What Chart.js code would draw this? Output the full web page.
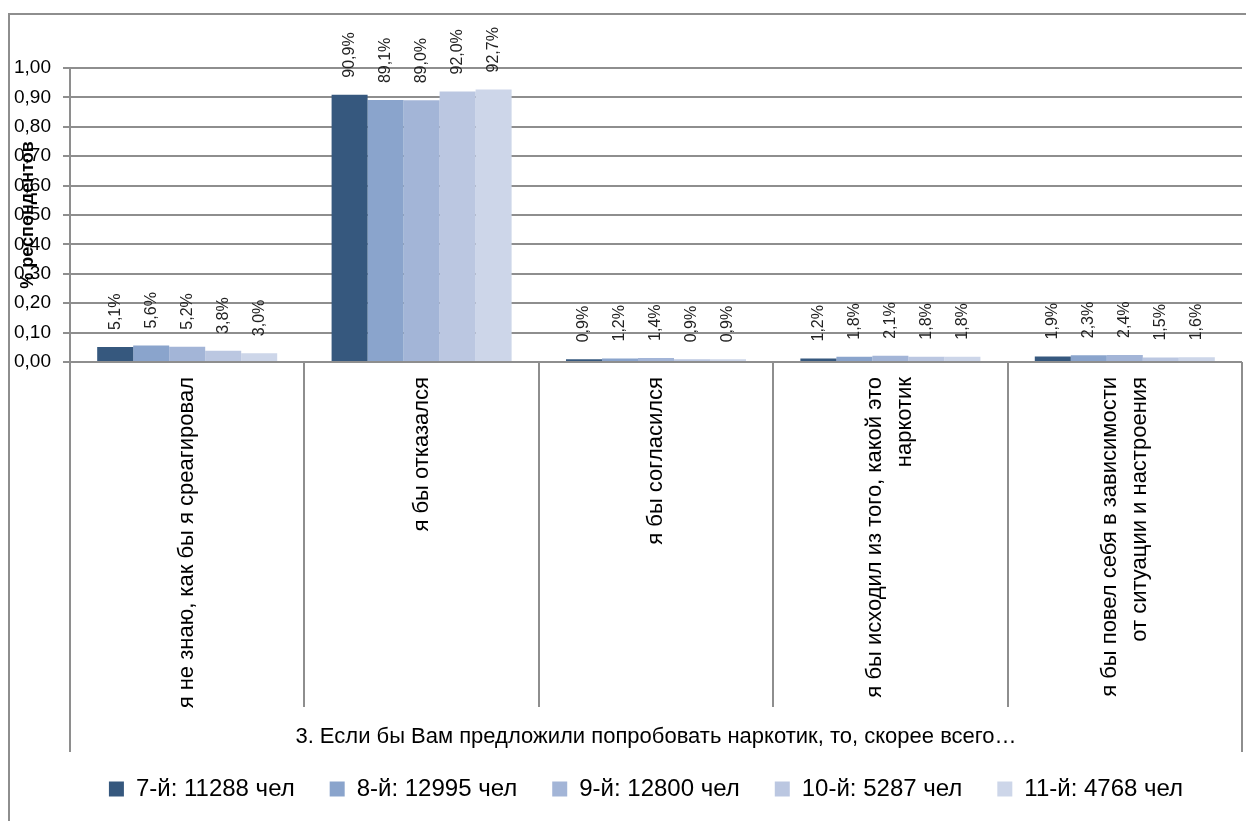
<!DOCTYPE html>
<html>
<head>
<meta charset="utf-8">
<script src="https://cdn.jsdelivr.net/npm/chart.js@4.4.1/dist/chart.umd.min.js"></script>
<style>
  html, body { margin: 0; padding: 0; background: #fff; }
  canvas { display: block; }
</style>
</head>
<body>
<canvas id="chart" width="1246" height="821"></canvas>
<script>
const categories = [
  ["я не знаю, как бы я среагировал"],
  ["я бы отказался"],
  ["я бы согласился"],
  ["я бы исходил из того, какой это", "наркотик"],
  ["я бы повел себя в зависимости", "от ситуации и настроения"]
];
const seriesNames = ["7-й: 11288 чел", "8-й: 12995 чел", "9-й: 12800 чел", "10-й: 5287 чел", "11-й: 4768 чел"];
const grade7 = [0.051, 0.909, 0.009, 0.012, 0.019];
const grade8 = [0.056, 0.891, 0.012, 0.018, 0.023];
const grade9 = [0.052, 0.890, 0.014, 0.021, 0.024];
const grade10 = [0.038, 0.920, 0.009, 0.018, 0.015];
const grade11 = [0.030, 0.927, 0.009, 0.018, 0.016];
const colors = ["#36587e", "#8aa4cc", "#a3b5d7", "#bbc7e1", "#cdd6e9"];
const axisTitle = "3. Если бы Вам предложили попробовать наркотик, то, скорее всего…";
const yTitle = "% респондентов";

const FONT = "'Liberation Sans', Arial, sans-serif";
const GRID = "#8e8e8e";
Chart.defaults.font.family = FONT;
Chart.defaults.color = "#000";

const pct = v => (v * 100).toFixed(1).replace(".", ",") + "%";

// frame, data labels, category boxes and labels
const decorations = {
  id: "decorations",
  beforeDraw(chart) {
    const ctx = chart.ctx;
    ctx.save();
    ctx.fillStyle = "#fff";
    ctx.fillRect(0, 0, chart.width, chart.height);
    ctx.strokeStyle = GRID;
    ctx.lineWidth = 2;
    ctx.beginPath();
    ctx.moveTo(9, chart.height);
    ctx.lineTo(9, 14);
    ctx.lineTo(chart.width, 14);
    ctx.stroke();
    ctx.restore();
  },
  afterDraw(chart) {
    const ctx = chart.ctx;
    const area = chart.chartArea;
    const x = chart.scales.x;

    ctx.save();
    // data labels
    ctx.font = "16px " + FONT;
    ctx.fillStyle = "#222";
    ctx.textAlign = "left";
    ctx.textBaseline = "middle";
    chart.data.datasets.forEach((ds, i) => {
      chart.getDatasetMeta(i).data.forEach((bar, j) => {
        ctx.save();
        ctx.translate(bar.x, bar.y - 17);
        ctx.rotate(-Math.PI / 2);
        ctx.fillText(pct(ds.data[j]), 0, 0);
        ctx.restore();
      });
    });

    // category dividers
    const half = (x.getPixelForValue(1) - x.getPixelForValue(0)) / 2;
    ctx.strokeStyle = GRID;
    ctx.lineWidth = 2;
    ctx.beginPath();
    for (let j = 1; j < categories.length; j++) {
      const px = Math.round(x.getPixelForValue(j) - half);
      ctx.moveTo(px, area.bottom);
      ctx.lineTo(px, area.bottom + 345);
    }
    ctx.moveTo(area.left, area.bottom);
    ctx.lineTo(area.left, area.bottom + 390);
    ctx.moveTo(area.right, area.bottom);
    ctx.lineTo(area.right, area.bottom + 390);
    ctx.stroke();

    // category labels
    ctx.font = "22px " + FONT;
    ctx.fillStyle = "#000";
    ctx.textAlign = "right";
    categories.forEach((lines, j) => {
      const cx = x.getPixelForValue(j);
      lines.forEach((t, k) => {
        ctx.save();
        ctx.translate(cx + (k - (lines.length - 1) / 2) * 30, area.bottom + 15);
        ctx.rotate(-Math.PI / 2);
        ctx.fillText(t, 0, 0);
        ctx.restore();
      });
    });
    ctx.restore();
  }
};

new Chart(document.getElementById("chart"), {
  type: "bar",
  data: {
    labels: categories,
    datasets: [grade7, grade8, grade9, grade10, grade11].map((d, i) => ({
      label: seriesNames[i],
      data: d,
      backgroundColor: colors[i],
      borderWidth: 0,
      categoryPercentage: 0.768,
      barPercentage: 1.0
    }))
  },
  options: {
    responsive: false,
    animation: false,
    // negative right padding + empty right axis: keeps the plot at x=1242 while the legend centres like the original
    layout: { padding: { top: 68, left: 10, right: -36, bottom: 10 } },
    plugins: {
      legend: {
        position: "bottom",
        labels: {
          boxWidth: 15,
          boxHeight: 15,
          padding: 35,
          color: "#000",
          font: { size: 24 }
        }
      },
      tooltip: { enabled: false }
    },
    scales: {
      x: {
        grid: { display: false },
        border: { display: false },
        ticks: { display: false },
        title: {
          display: true,
          text: axisTitle,
          color: "#000",
          font: { size: 22, lineHeight: 0.45 },
          padding: 0
        },
        afterFit: s => { s.height = 380; }
      },
      y: {
        min: 0,
        max: 1,
        ticks: {
          stepSize: 0.1,
          padding: 12,
          color: "#000",
          font: { size: 19 },
          callback: v => v.toFixed(2).replace(".", ",")
        },
        grid: { color: GRID, lineWidth: 2, tickLength: 7 },
        border: { color: GRID, width: 2 },
        title: {
          display: true,
          text: yTitle,
          color: "#000",
          font: { size: 18, weight: "bold", lineHeight: 1.2 },
          padding: { top: 7, bottom: 0 }
        },
        afterFit: s => { s.width = 60; }
      },
      spacer: {
        position: "right",
        min: 0,
        max: 1,
        grid: { display: false },
        border: { display: false },
        ticks: { display: false },
        afterFit: s => { s.width = 40; }
      }
    }
  },
  plugins: [decorations]
});
</script>
</body>
</html>
